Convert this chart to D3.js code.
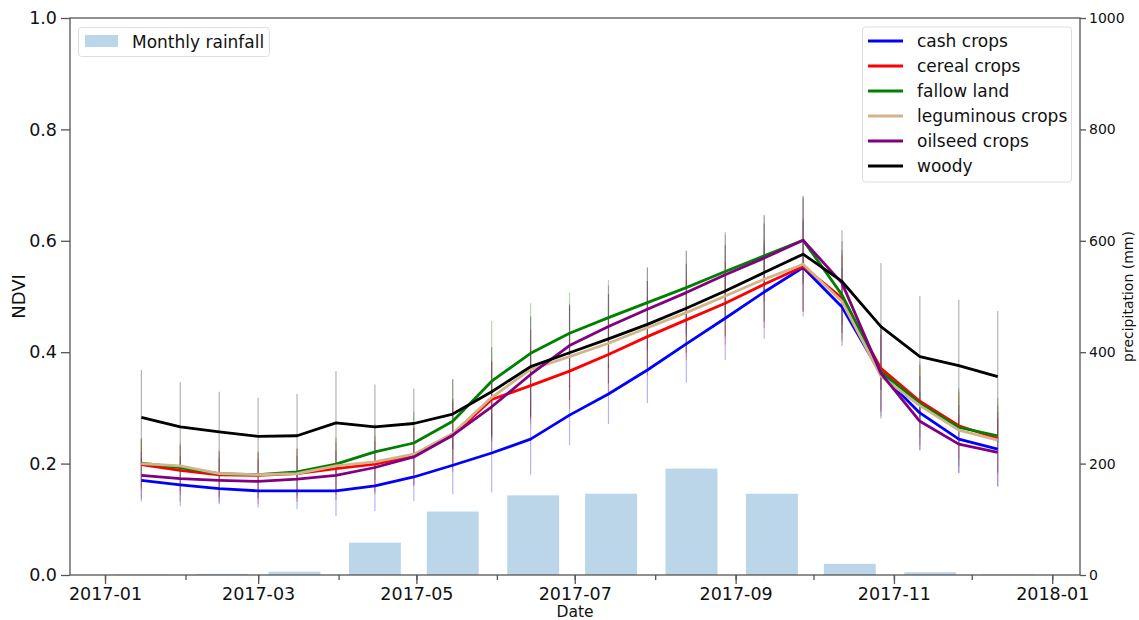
<!DOCTYPE html>
<html>
<head>
<meta charset="utf-8">
<script src="https://cdn.jsdelivr.net/npm/d3@7"></script>
<style>
  html, body { margin: 0; padding: 0; background: #fff; }
  svg { display: block; font-family: "DejaVu Sans", sans-serif; }
</style>
</head>
<body>
<svg id="chart" width="1139" height="620"></svg>
<script>
// Sampling dates of the NDVI time series
const ndviDates = ["2017-01-15","2017-01-30","2017-02-14","2017-03-01","2017-03-16","2017-03-31",
  "2017-04-15","2017-04-30","2017-05-15","2017-05-30","2017-06-14","2017-06-29","2017-07-14",
  "2017-07-29","2017-08-13","2017-08-28","2017-09-12","2017-09-27","2017-10-12","2017-10-27",
  "2017-11-11","2017-11-26","2017-12-11"];

const seriesNames = ["cash crops","cereal crops","fallow land","leguminous crops","oilseed crops","woody"];
const seriesColors = ["#0000ff","#ff0000","#008000","#d2b48c","#800080","#000000"];

// Mean NDVI per land-use class
const cashMean = [0.170,0.162,0.155,0.151,0.151,0.151,0.160,0.176,0.197,0.219,0.244,0.287,0.325,0.368,0.415,0.461,0.508,0.552,0.481,0.361,0.291,0.244,0.226];
const cerealMean = [0.198,0.188,0.180,0.179,0.182,0.191,0.199,0.214,0.251,0.315,0.340,0.366,0.396,0.428,0.458,0.488,0.522,0.554,0.497,0.371,0.312,0.268,0.245];
const fallowMean = [0.201,0.193,0.182,0.180,0.185,0.199,0.221,0.237,0.276,0.348,0.398,0.434,0.462,0.489,0.516,0.545,0.573,0.601,0.503,0.365,0.308,0.265,0.250];
const legumeMean = [0.200,0.196,0.182,0.180,0.182,0.196,0.203,0.217,0.254,0.319,0.369,0.392,0.416,0.444,0.471,0.501,0.531,0.558,0.491,0.357,0.304,0.260,0.242];
const oilseedMean = [0.179,0.173,0.170,0.168,0.172,0.179,0.193,0.212,0.251,0.302,0.360,0.412,0.446,0.477,0.507,0.539,0.569,0.601,0.524,0.362,0.276,0.235,0.220];
const woodyMean = [0.283,0.266,0.257,0.249,0.250,0.273,0.266,0.272,0.289,0.329,0.374,0.399,0.424,0.450,0.479,0.510,0.543,0.576,0.527,0.446,0.392,0.376,0.356];

// Standard deviation per land-use class
const cashStd = [0.038,0.038,0.028,0.030,0.033,0.045,0.045,0.043,0.052,0.071,0.064,0.054,0.054,0.059,0.070,0.075,0.084,0.088,0.070,0.080,0.067,0.061,0.067];
const cerealStd = [0.045,0.044,0.042,0.042,0.044,0.048,0.050,0.052,0.060,0.070,0.070,0.068,0.068,0.070,0.072,0.074,0.078,0.080,0.078,0.075,0.065,0.060,0.060];
const fallowStd = [0.045,0.042,0.040,0.040,0.042,0.048,0.050,0.055,0.075,0.108,0.090,0.073,0.068,0.064,0.066,0.066,0.072,0.075,0.080,0.080,0.075,0.070,0.068];
const legumeStd = [0.046,0.045,0.043,0.043,0.045,0.049,0.050,0.053,0.062,0.072,0.072,0.070,0.070,0.072,0.073,0.075,0.078,0.080,0.078,0.076,0.066,0.062,0.062];
const oilseedStd = [0.042,0.041,0.040,0.040,0.041,0.045,0.048,0.052,0.065,0.080,0.080,0.075,0.074,0.074,0.075,0.077,0.078,0.079,0.075,0.070,0.052,0.052,0.061];
const woodyStd = [0.085,0.080,0.072,0.069,0.075,0.093,0.076,0.063,0.063,0.080,0.090,0.085,0.080,0.078,0.080,0.082,0.088,0.104,0.092,0.114,0.109,0.118,0.118];

// Monthly rainfall (mm), centred on the 15th of each month
const rainDates = ["2017-01-15","2017-02-15","2017-03-15","2017-04-15","2017-05-15","2017-06-15",
  "2017-07-15","2017-08-15","2017-09-15","2017-10-15","2017-11-15","2017-12-15"];
const rainValues = [1, 2, 6, 58, 114, 143, 146, 191, 146, 20, 5, 1];

const ndviTicks = [0, 0.2, 0.4, 0.6, 0.8, 1.0];
const rainTicks = [0, 200, 400, 600, 800, 1000];

const means = [cashMean, cerealMean, fallowMean, legumeMean, oilseedMean, woodyMean];
const stds = [cashStd, cerealStd, fallowStd, legumeStd, oilseedStd, woodyStd];

const DAY = 864e5;
const parse = s => new Date(s + "T00:00:00Z");
const t0 = Date.UTC(2017, 0, 1);

const svg = d3.select("#chart");
const L = 70, R = 1080, T = 18, B = 575;

const x = d3.scaleUtc()
  .domain([new Date(t0 - 13.49 * DAY), new Date(t0 + 375.7 * DAY)])
  .range([L, R]);
const y = d3.scaleLinear().domain([0, 1]).range([B, T]);
const y2 = d3.scaleLinear().domain([0, 1000]).range([B, T]);

// rainfall bars (20 days wide)
const barHalf = 10 * DAY;
svg.append("g").selectAll("rect")
  .data(rainDates.map((d, i) => ({ date: parse(d), v: rainValues[i] })))
  .join("rect")
  .attr("x", d => x(new Date(+d.date - barHalf)))
  .attr("width", d => x(new Date(+d.date + barHalf)) - x(new Date(+d.date - barHalf)))
  .attr("y", d => y2(d.v))
  .attr("height", d => y2(0) - y2(d.v))
  .attr("fill", "#1f77b4")
  .attr("fill-opacity", 0.3);

// error bars
const eb = svg.append("g");
means.forEach((m, si) => {
  eb.append("g").selectAll("line")
    .data(m.map((v, i) => ({ date: parse(ndviDates[i]), v, s: stds[si][i] })))
    .join("line")
    .attr("x1", d => x(d.date)).attr("x2", d => x(d.date))
    .attr("y1", d => y(d.v - d.s)).attr("y2", d => y(d.v + d.s))
    .attr("stroke", seriesColors[si])
    .attr("stroke-opacity", 0.3)
    .attr("stroke-width", 1.2);
});

// mean lines
const line = d3.line().x(d => x(d.date)).y(d => y(d.v));
means.forEach((m, si) => {
  svg.append("path")
    .datum(m.map((v, i) => ({ date: parse(ndviDates[i]), v })))
    .attr("d", line)
    .attr("fill", "none")
    .attr("stroke", seriesColors[si])
    .attr("stroke-width", 2.8)
    .attr("stroke-linejoin", "round");
});

// axes
const axisColor = "#555";
const styleAxis = (g, fs) => {
  g.select(".domain").remove();
  g.selectAll(".tick line").attr("stroke", axisColor).attr("stroke-width", 1.3);
  g.selectAll(".tick text").attr("fill", "#111").style("font-size", fs + "px")
    .style("font-family", "'DejaVu Sans', sans-serif");
};

// x minor ticks (monthly)
const monthTicks = d3.utcMonth.range(new Date(Date.UTC(2017, 0, 1)), new Date(Date.UTC(2018, 0, 2)));
svg.append("g").attr("transform", `translate(0,${B})`)
  .call(d3.axisBottom(x).tickValues(monthTicks).tickSize(5).tickFormat(""))
  .call(g => styleAxis(g, 17));

// x major ticks (every two months)
const majorTicks = d3.utcMonth.every(2).range(new Date(Date.UTC(2017, 0, 1)), new Date(Date.UTC(2018, 0, 2)));
svg.append("g").attr("transform", `translate(0,${B})`)
  .call(d3.axisBottom(x).tickValues(majorTicks).tickSize(9).tickPadding(4).tickFormat(d3.utcFormat("%Y-%m")))
  .call(g => styleAxis(g, 17.5));

svg.append("g").attr("transform", `translate(${L},0)`)
  .call(d3.axisLeft(y).tickValues(ndviTicks).tickSize(9).tickPadding(4).tickFormat(d3.format(".1f")))
  .call(g => styleAxis(g, 17.5));

svg.append("g").attr("transform", `translate(${R},0)`)
  .call(d3.axisRight(y2).tickValues(rainTicks).tickSize(6).tickPadding(3).tickFormat(d3.format("d")))
  .call(g => styleAxis(g, 14));

// frame
svg.append("rect").attr("x", L).attr("y", T).attr("width", R - L).attr("height", B - T)
  .attr("fill", "none").attr("stroke", axisColor).attr("stroke-width", 1.3);

// axis titles
svg.append("text").attr("x", 575).attr("y", 617).attr("text-anchor", "middle")
  .style("font-size", "15.5px").attr("fill", "#111").text("Date");
svg.append("text").attr("transform", `translate(25,${(T + B) / 2}) rotate(-90)`)
  .attr("text-anchor", "middle").style("font-size", "18px").attr("fill", "#111").text("NDVI");
svg.append("text").attr("transform", `translate(1133,${(T + B) / 2}) rotate(-90)`)
  .attr("text-anchor", "middle").style("font-size", "14px").attr("fill", "#111").text("precipitation (mm)");

// rainfall legend
const lg1 = svg.append("g");
lg1.append("rect").attr("x", 78.5).attr("y", 27.5).attr("width", 191).attr("height", 29).attr("rx", 3)
  .attr("fill", "#fff").attr("fill-opacity", 0.8).attr("stroke", "#ddd");
lg1.append("rect").attr("x", 85).attr("y", 35).attr("width", 33).attr("height", 12)
  .attr("fill", "#1f77b4").attr("fill-opacity", 0.3);
lg1.append("text").attr("x", 132).attr("y", 47.5).style("font-size", "17px").attr("fill", "#111").text("Monthly rainfall");

// series legend
const lg2 = svg.append("g");
lg2.append("rect").attr("x", 862.5).attr("y", 27).attr("width", 209).attr("height", 155).attr("rx", 3)
  .attr("fill", "#fff").attr("fill-opacity", 0.8).attr("stroke", "#ddd");
seriesNames.forEach((n, i) => {
  const yy = 41 + 25 * i;
  lg2.append("line").attr("x1", 868).attr("x2", 903).attr("y1", yy).attr("y2", yy)
    .attr("stroke", seriesColors[i]).attr("stroke-width", 2.8);
  lg2.append("text").attr("x", 917).attr("y", yy + 6).style("font-size", "17px").attr("fill", "#111").text(n);
});
</script>
</body>
</html>
